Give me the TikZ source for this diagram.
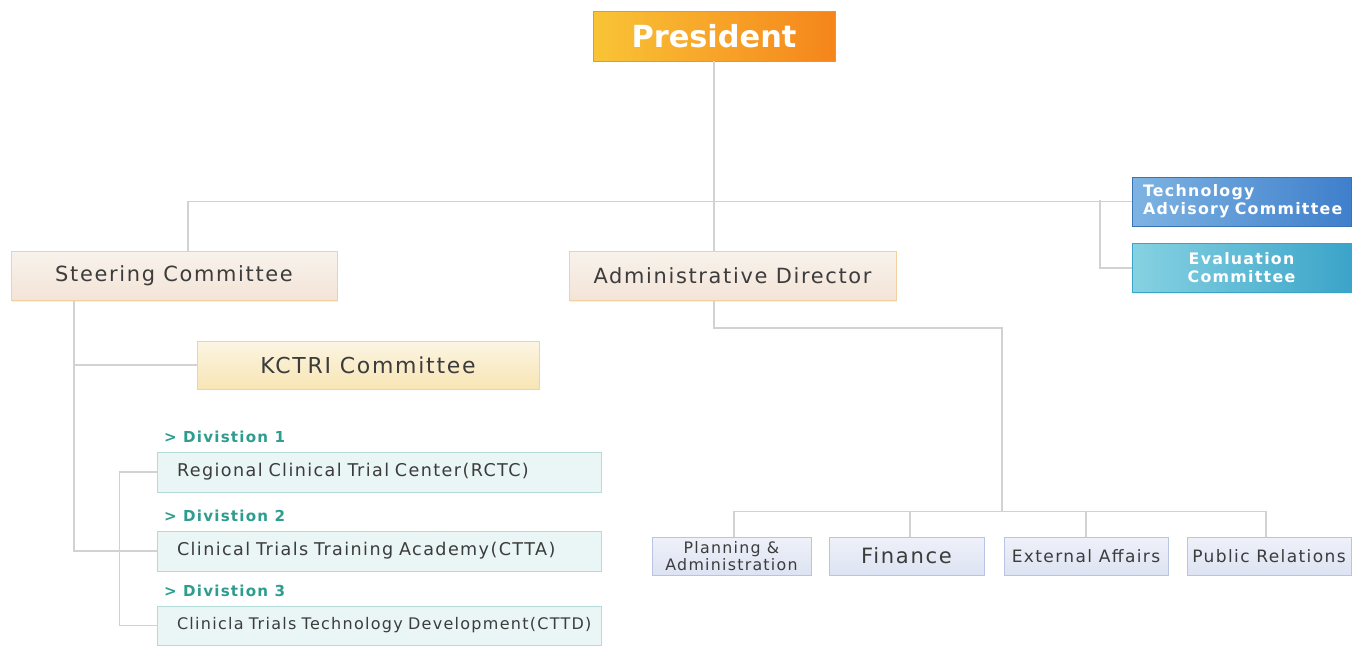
\documentclass[tikz,border=0pt]{standalone}
\usepackage{fontspec}
\setmainfont{DejaVu Sans}
\newfontfamily\orgfont[LetterSpace=8]{DejaVu Sans}
\usetikzlibrary{shadows}
\definecolor{linkgray}{HTML}{D2D2D2}
\definecolor{textgray}{HTML}{3C3C3C}
\definecolor{presA}{HTML}{F9C436}
\definecolor{presB}{HTML}{F5851B}
\definecolor{creamA}{HTML}{F8F2EC}
\definecolor{creamB}{HTML}{F3E4D7}
\definecolor{creamline}{HTML}{F4CFA0}
\definecolor{kctriA}{HTML}{FBF5E3}
\definecolor{kctriB}{HTML}{F8E5B4}
\definecolor{kctriline}{HTML}{F5D48C}
\definecolor{tacA}{HTML}{7EB4E3}
\definecolor{tacB}{HTML}{3F7FCB}
\definecolor{evalA}{HTML}{86D2E2}
\definecolor{evalB}{HTML}{3BA4C9}
\definecolor{divfill}{HTML}{EAF5F5}
\definecolor{divline}{HTML}{B5DADA}
\definecolor{divtext}{HTML}{2E9C8E}
\definecolor{deptA}{HTML}{EEF1F9}
\definecolor{deptB}{HTML}{DDE3F2}
\definecolor{deptline}{HTML}{B9C4E0}
\tikzset{
  link/.style={draw=linkgray, line width=0.9pt},
  orgbox/.style={inner sep=0pt, align=center, text=textgray,
    drop shadow={opacity=0.12, shadow xshift=0.7pt, shadow yshift=-0.7pt}},
  headbox/.style={orgbox, top color=creamA, bottom color=creamB, draw=creamline,
    minimum height=0.98cm, font=\orgfont\fontsize{11.9}{13}\selectfont},
  divbox/.style={orgbox, fill=divfill, draw=divline, minimum height=0.8cm,
    text width=8.08cm, inner xsep=0.4cm, align=left,
    font=\orgfont\fontsize{10}{11}\selectfont},
  divlabel/.style={anchor=base west, inner sep=0pt, text=divtext,
    font=\orgfont\bfseries\fontsize{8.6}{10}\selectfont},
  deptbox/.style={orgbox, top color=deptA, bottom color=deptB, draw=deptline,
    minimum height=0.76cm, font=\orgfont\fontsize{9.7}{11}\selectfont},
  sidebox/.style={orgbox, text=white, minimum width=4.38cm, minimum height=0.98cm,
    font=\orgfont\bfseries\fontsize{9}{10.2}\selectfont},
}
\begin{document}
\begin{tikzpicture}[x=0.02cm, y=-0.02cm]
  \fill[white] (0,0) rectangle (1353,647);

  % top of the chart
  \node[orgbox, left color=presA, right color=presB, draw=presB!80!presA,
    minimum width=4.84cm, minimum height=1cm, text=white,
    font=\bfseries\fontsize{17.3}{20}\selectfont] (pres) at (714,36) {President};
  \node[headbox, minimum width=6.52cm] (steer) at (174,276) {Steering Committee};
  \node[headbox, minimum width=6.54cm] (admin) at (732.5,276) {Administrative Director};
  \node[sidebox, left color=tacA, right color=tacB, draw=tacB!90!black,
    text width=3.94cm, inner xsep=0.22cm, align=left] (tac) at (1241.5,201.5)
    {Technology\\Advisory Committee};
  \node[sidebox, left color=evalA, right color=evalB, draw=evalB] (eval) at (1241.5,268)
    {Evaluation\\Committee};
  \coordinate (fork) at (1100,200);

  % steering side
  \node[orgbox, top color=kctriA, bottom color=kctriB, draw=kctriline,
    minimum width=6.84cm, minimum height=0.96cm,
    font=\orgfont\fontsize{12.5}{13}\selectfont] (kctri) at (368,365) {KCTRI Committee};
  \node[divbox] (rctc) at (379,472) {Regional Clinical Trial Center(RCTC)};
  \node[divbox] (ctta) at (379,551) {Clinical Trials Training Academy(CTTA)};
  \node[divbox, minimum height=0.78cm, font=\orgfont\fontsize{9.1}{11}\selectfont]
    (cttd) at (379,625.5) {\mbox{Clinicla Trials Technology Development(CTTD)}};
  \node[divlabel] (div1) at ([xshift=0.14cm, yshift=0.18cm]rctc.north west) {> Divistion 1};
  \node[divlabel] (div2) at ([xshift=0.14cm, yshift=0.18cm]ctta.north west) {> Divistion 2};
  \node[divlabel] (div3) at ([xshift=0.14cm, yshift=0.18cm]cttd.north west) {> Divistion 3};

  % admin side
  \node[deptbox, minimum width=3.18cm, font=\orgfont\fontsize{9}{8.6}\selectfont]
    (plan) at (731.5,556) {Planning \&\\Administration};
  \node[deptbox, minimum width=3.10cm, font=\orgfont\fontsize{12}{13}\selectfont]
    (fin) at (906.5,556) {Finance};
  \node[deptbox, minimum width=3.28cm] (ext) at (1086,556) {External Affairs};
  \node[deptbox, minimum width=3.28cm] (pub) at (1269,556) {Public Relations};
  \coordinate (abus) at (1002,512);

  % connectors
  \draw[link] (pres.south) -- (pres.south |- admin.north);
  \draw[link] ([xshift=0.28cm]steer.north) |- (tac.west);
  \draw[link] (fork) |- (eval.west);
  \draw[link] ([xshift=-2cm]steer.south) |- (ctta.west);
  \draw[link] ([xshift=-2cm]steer.south |- kctri.west) -- (kctri.west);
  \draw[link] (rctc.west) -- ++(-37,0) |- (cttd.west);
  \draw[link] (pres.south |- admin.south) -- ++(0,27) -| (abus);
  \draw[link] ([xshift=0.05cm]plan.north) -- ++(0,-25) -| ([xshift=-0.06cm]pub.north);
  \draw[link] ([xshift=0.07cm]fin.north) -- ++(0,-25);
  \draw[link] (ext.north) -- ++(0,-25);
\end{tikzpicture}
\end{document}
